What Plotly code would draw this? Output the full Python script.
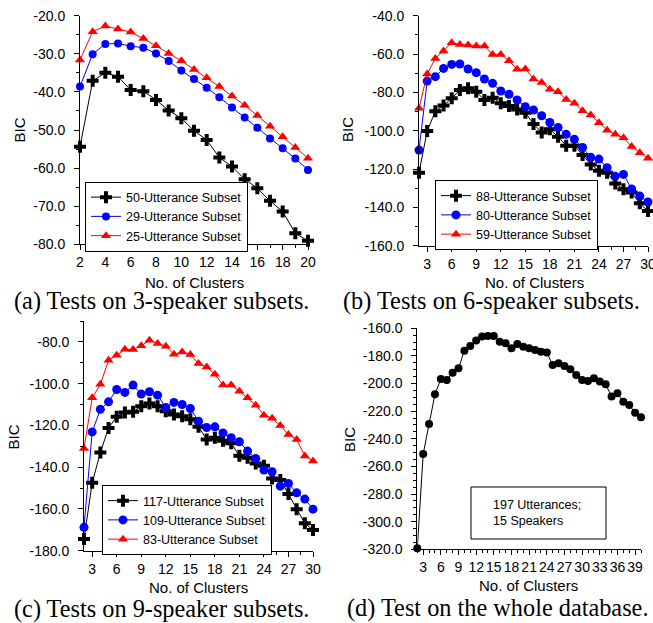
import plotly.graph_objects as go

# ---------------- data ----------------
xa = list(range(2, 21))
a_50 = [-54.4, -37.1, -35.0, -36.0, -39.5, -39.8, -42.1, -44.9, -46.9, -50.2,
        -52.6, -57.2, -59.6, -62.9, -65.3, -68.6, -71.4, -77.1, -79.1]
a_29 = [-38.6, -30.1, -27.4, -27.3, -28.0, -28.4, -29.9, -31.9, -34.4, -36.6,
        -38.9, -41.4, -44.1, -46.7, -49.4, -52.2, -54.8, -57.5, -60.5]
a_25 = [-31.6, -24.2, -22.7, -23.5, -24.3, -26.0, -27.9, -29.9, -31.8, -34.1,
        -36.3, -38.6, -41.1, -43.5, -46.2, -49.0, -51.8, -54.6, -57.4]

xb = list(range(2, 31))
b_88 = [-121.9, -100.2, -89.8, -86.8, -83.1, -78.8, -77.9, -79.7, -84.0, -82.8,
        -85.7, -87.1, -88.9, -90.6, -96.5, -100.9, -99.3, -103.1, -107.8, -107.8,
        -112.7, -117.6, -120.9, -121.9, -127.5, -130.6, -132.3, -137.9, -141.9]
b_80 = [-110.1, -74.1, -71.8, -67.5, -65.4, -65.2, -67.8, -69.7, -73.0, -75.3,
        -79.3, -81.0, -84.0, -87.5, -89.2, -92.2, -95.7, -98.3, -101.9, -104.5,
        -108.7, -113.9, -114.8, -119.3, -123.7, -122.8, -130.4, -134.1, -137.2]
b_59 = [-88.3, -70.4, -62.3, -58.4, -54.1, -55.0, -55.3, -55.8, -55.8, -60.2,
        -60.2, -63.5, -68.0, -67.8, -73.0, -74.8, -78.4, -79.7, -83.7, -85.7,
        -89.6, -91.8, -95.8, -99.7, -101.9, -103.7, -108.3, -111.5, -114.4]

xc = list(range(2, 31))
c_117 = [-174.4, -147.5, -133.0, -121.2, -115.9, -113.8, -113.5, -110.8, -109.5, -110.8,
         -113.2, -114.8, -115.6, -117.0, -120.7, -126.7, -125.9, -127.4, -128.6, -134.5,
         -135.5, -138.2, -139.3, -145.4, -146.2, -152.9, -160.1, -166.9, -170.1]
c_109 = [-168.8, -123.1, -112.3, -108.7, -102.8, -104.2, -100.7, -105.0, -103.9, -105.5,
         -111.4, -109.0, -110.0, -111.9, -118.0, -121.0, -120.7, -123.6, -125.9, -127.8,
         -132.3, -135.8, -141.4, -142.2, -149.1, -147.8, -152.3, -155.3, -160.1]
c_83 = [-131.0, -106.8, -100.3, -88.8, -86.4, -83.5, -83.7, -81.9, -79.2, -80.8,
        -82.1, -85.9, -84.8, -86.1, -90.4, -92.0, -95.5, -100.7, -100.7, -103.6,
        -106.8, -110.3, -115.1, -116.6, -120.1, -124.3, -126.7, -134.6, -137.0]

xd = list(range(2, 41))
d_197 = [-319.3, -251.0, -229.3, -207.8, -196.7, -197.4, -192.1, -189.0, -176.2, -172.8,
         -168.9, -166.0, -165.5, -165.5, -169.7, -170.9, -174.5, -171.3, -173.3, -174.5,
         -175.7, -176.9, -177.6, -186.5, -185.3, -187.3, -189.7, -193.8, -197.4, -198.1,
         -196.2, -198.6, -200.5, -209.4, -207.1, -213.1, -215.5, -221.1, -224.4]

# tick values (labels are formatted from them with a plain hyphen)
yticks_a = [-80, -70, -60, -50, -40, -30, -20]
yticks_b = [-160, -140, -120, -100, -80, -60, -40]
yticks_c = [-180, -160, -140, -120, -100, -80]
yticks_d = [-320, -300, -280, -260, -240, -220, -200, -180, -160]

captions = ["(a) Tests on 3-speaker subsets.", "(b) Tests on 6-speaker subsets.",
            "(c) Tests on 9-speaker subsets.", "(d) Test on the whole database."]

# ---------------- figure ----------------
W, H = 653, 623
def px(x):
    return x / W
def py(y):
    return 1 - y / H

SANS = "Arial, Liberation Sans, sans-serif"
SERIF = "Times New Roman, Liberation Serif, serif"

fig = go.Figure()

def add(x, y, name, color, symbol, size, xa_, ya_, legend, showlegend=True):
    fig.add_trace(go.Scatter(
        x=x, y=y, name=name, mode="lines+markers",
        line=dict(color=color, width=1),
        marker=dict(color=color, symbol=symbol, size=size, line=dict(width=0)),
        xaxis=xa_, yaxis=ya_, legend=legend, showlegend=showlegend,
        cliponaxis=False))

add(xa, a_50, "50-Utterance Subset", "black", "cross", 10, "x", "y", "legend")
add(xa, a_29, "29-Utterance Subset", "blue", "circle", 8, "x", "y", "legend")
add(xa, a_25, "25-Utterance Subset", "red", "triangle-up", 9, "x", "y", "legend")

add(xb, b_88, "88-Utterance Subset", "black", "cross", 10, "x2", "y2", "legend2")
add(xb, b_80, "80-Utterance Subset", "blue", "circle", 9, "x2", "y2", "legend2")
add(xb, b_59, "59-Utterance Subset", "red", "triangle-up", 9, "x2", "y2", "legend2")

add(xc, c_117, "117-Utterance Subset", "black", "cross", 10, "x3", "y3", "legend3")
add(xc, c_109, "109-Utterance Subset", "blue", "circle", 9, "x3", "y3", "legend3")
add(xc, c_83, "83-Utterance Subset", "red", "triangle-up", 9, "x3", "y3", "legend3")

add(xd, d_197, "197 Utterances", "black", "circle", 8, "x4", "y4", "legend", showlegend=False)

def xax(domain, rng, dtick, mdtick, anchor):
    return dict(domain=domain, range=rng, anchor=anchor, tick0=0, dtick=dtick,
                automargin=False, tickangle=0, ticklabeloverflow="allow",
                showline=True, linecolor="black", linewidth=1, mirror=False,
                ticks="outside", ticklen=5, tickwidth=1, tickcolor="black",
                showgrid=False, zeroline=False,
                tickfont=dict(family=SANS, size=14, color="black"),
                minor=dict(dtick=mdtick, ticks="outside", ticklen=3, tickcolor="black", showgrid=False))

def yax(domain, rng, ticks, mdtick, anchor, standoff=6):
    return dict(domain=domain, range=rng, anchor=anchor,
                tickmode="array", tickvals=ticks, ticktext=[f"{v:.1f}" for v in ticks],
                automargin=False, ticklabelstandoff=standoff, ticklabeloverflow="allow",
                showline=True, linecolor="black", linewidth=1, mirror=False,
                ticks="outside", ticklen=5, tickwidth=1, tickcolor="black",
                showgrid=False, zeroline=False,
                tickfont=dict(family=SANS, size=14, color="black"),
                minor=dict(tick0=rng[0], dtick=mdtick, ticks="outside", ticklen=3,
                           tickcolor="black", showgrid=False))

fig.update_layout(
    width=W, height=H, margin=dict(l=0, r=0, t=0, b=0, autoexpand=False),
    paper_bgcolor="white", plot_bgcolor="white",
    font=dict(family=SANS, color="black"),
    xaxis=xax([px(80), px(308)], [2, 20], 2, 1, "y"),
    yaxis=yax([py(244.3), py(15.7)], [-80, -20], yticks_a, 5, "x"),
    xaxis2=xax([px(419), px(648)], [2, 30], 3, 1.5, "y2"),
    yaxis2=yax([py(245.7), py(15.7)], [-160, -40], yticks_b, 10, "x2"),
    xaxis3=xax([px(84), px(313)], [2, 30], 3, 1.5, "y3"),
    yaxis3=yax([py(550.7), py(321)], [-180, -70], yticks_c, 10, "x3"),
    xaxis4=xax([px(417.3), px(641)], [2, 40], 3, 1, "y4"),
    yaxis4=yax([py(549.3), py(328.3)], [-320, -160], yticks_d, 5, "x4"),
)

legend_common = dict(xanchor="left", yanchor="top", bgcolor="white",
                     bordercolor="black", borderwidth=1, itemwidth=30,
                     tracegroupgap=0, font=dict(family=SANS, size=12.5, color="black"))
fig.update_layout(
    legend=dict(x=px(85), y=py(181.5), **legend_common),
    legend2=dict(x=px(435), y=py(180), **legend_common),
    legend3=dict(x=px(102), y=py(485), **legend_common),
)

ann = []
def note(text, x, y, size, family=SANS, angle=0, xanchor="center"):
    ann.append(dict(text=text, x=px(x), y=py(y), xref="paper", yref="paper",
                    xanchor=xanchor, yanchor="middle", showarrow=False, textangle=angle,
                    align="left", font=dict(family=family, size=size, color="black")))

for (x, y) in [(18.5, 130), (347, 130), (12.5, 437), (349, 440)]:
    note("BIC", x, y, 15, angle=-90)
for (x, y) in [(194, 282), (534, 282), (198, 587), (528, 585)]:
    note("No. of Clusters", x, y, 15)
for cap, (x, y) in zip(captions, [(161.5, 301), (491, 301), (161.5, 609), (497, 608)]):
    note(cap, x, y, 24.3, family=SERIF)
note("197 Utterances;<br>15 Speakers", 491, 513, 12.5, xanchor="left")

fig.update_layout(annotations=ann)
fig.add_shape(type="rect", xref="paper", yref="paper",
              x0=px(471), x1=px(606), y0=py(539), y1=py(487),
              line=dict(color="black", width=1), fillcolor="rgba(0,0,0,0)")

fig.write_html("out.html", config={"displayModeBar": False},
               post_script="document.body.style.margin='0';document.body.style.overflow='hidden';")
